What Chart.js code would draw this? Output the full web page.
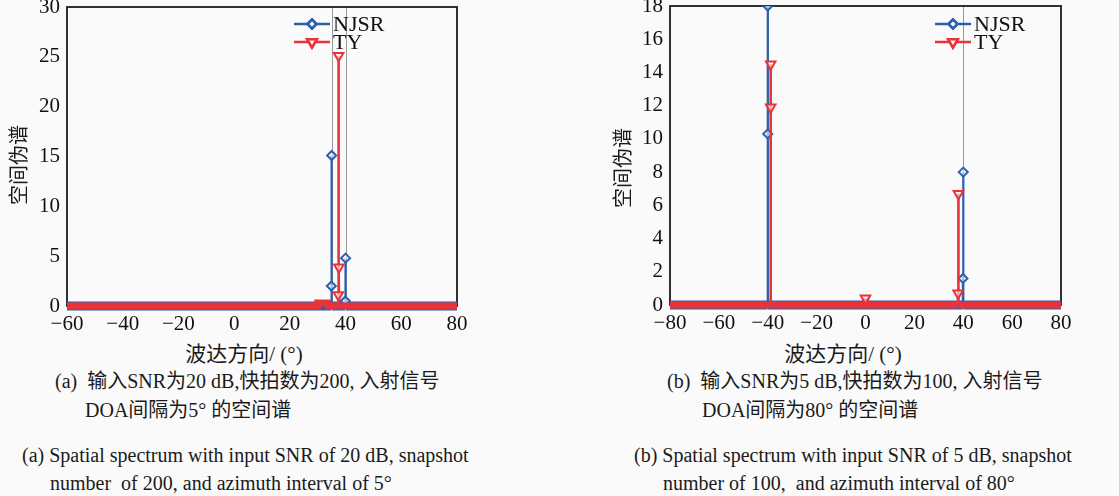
<!DOCTYPE html>
<html>
<head>
<meta charset="utf-8">
<script src="https://cdn.jsdelivr.net/npm/chart.js@4.4.0/dist/chart.umd.min.js"></script>
<style>
    body { margin: 0; width: 1119px; height: 496px; position: relative; overflow: hidden; background: #fafafa; color: #1a1a1a; font-family: "Liberation Serif", "Noto Sans CJK SC", serif; }
    .cv { position: absolute; top: 0; }
    .t { position: absolute; white-space: pre; font-size: 20px; line-height: 20px; }
    .c { transform: translateX(-50%); }
    .yt { transform: translate(-50%, -50%) rotate(-90deg); }
</style>
</head>
<body>
<div class="cv" style="left:0;width:480px;height:340px"><canvas id="chartA"></canvas></div>
<div class="cv" style="left:580px;width:520px;height:340px"><canvas id="chartB"></canvas></div>

<div class="t yt" style="left:19px;top:165px">空间伪谱</div>
<div class="t yt" style="left:623px;top:168px">空间伪谱</div>
<div class="t c" style="left:244px;top:344px;font-size:21px">波达方向/ (°)</div>
<div class="t c" style="left:843px;top:344px;font-size:21px">波达方向/ (°)</div>

<div class="t" style="left:55px;top:371px">(a)  输入SNR为20 dB,快拍数为200, 入射信号</div>
<div class="t" style="left:85px;top:400px">DOA间隔为5° 的空间谱</div>
<div class="t" style="left:22px;top:445px">(a) Spatial spectrum with input SNR of 20 dB, snapshot</div>
<div class="t" style="left:50px;top:473px">number  of 200, and azimuth interval of 5°</div>

<div class="t" style="left:667px;top:371px">(b)  输入SNR为5 dB,快拍数为100, 入射信号</div>
<div class="t" style="left:702px;top:400px">DOA间隔为80° 的空间谱</div>
<div class="t" style="left:634px;top:445px">(b) Spatial spectrum with input SNR of 5 dB, snapshot</div>
<div class="t" style="left:663px;top:473px">number of 100,  and azimuth interval of 80°</div>

<script>
// series names
const seriesNames = ["NJSR", "TY"];

// (a) SNR 20 dB, 200 snapshots, DOA 35 / 40
const aTrueDoa = [35, 40];
const aAngleNJSR = [-60, 34.8, 34.9, 35, 35.05, 39.8, 39.9, 40, 40.05, 80];
const aSpecNJSR  = [0, 0, 2.0, 15.1, 0, 0, 0.5, 4.8, 0, 0];
const aAngleTY   = [-60, 29.8, 30, 33.6, 33.8, 37.3, 37.4, 37.5, 37.6, 37.65, 80];
const aSpecTY    = [0, 0, 0.3, 0.3, 0, 0, 1.1, 25.1, 3.9, 0, 0];
const aXTicks = [-60, -40, -20, 0, 20, 40, 60, 80];
const aYTicks = [0, 5, 10, 15, 20, 25, 30];

// (b) SNR 5 dB, 100 snapshots, DOA -40 / 40
const bTrueDoa = [-40, 40];
const bAngleNJSR = [-80, -40.1, -40, -40, -39.95, 39.8, 39.9, 40, 40.05, 80];
const bSpecNJSR  = [0, 0, 10.3, 18.0, 0, 0, 1.6, 8.0, 0, 0];
const bAngleTY   = [-80, -38.9, -38.8, -38.8, -38.75, -0.1, 0, 0.1, 37.8, 37.9, 38.0, 38.05, 80];
const bSpecTY    = [0, 0, 11.9, 14.5, 0, 0, 0.4, 0, 0, 0.7, 6.7, 0, 0];
const bXTicks = [-80, -60, -40, -20, 0, 20, 40, 60, 80];
const bYTicks = [0, 2, 4, 6, 8, 10, 12, 14, 16, 18];

var BLUE = "#2c5fae";
var RED = "#e8333b";
var tickFont = { family: "Liberation Serif", size: 21 };

function pts(xs, ys) {
    return xs.map(function (x, i) { return { x: x, y: ys[i] }; });
}

// thick baseline where the spectrum sits near zero (dense markers in the original)
function seg(band, stem) {
    return function (ctx) {
        return (Math.abs(ctx.p0.parsed.y) < 0.5 && Math.abs(ctx.p1.parsed.y) < 0.5) ? band : stem;
    };
}

var framePlugin = {
    id: "frame",
    beforeDatasetsDraw: function (chart, args, opts) {
        var c = chart.ctx, a = chart.chartArea, xs = chart.scales.x;
        c.save();
        c.strokeStyle = "#9a9a9a";
        c.lineWidth = 1;
        opts.doa.forEach(function (d) {
            var px = Math.round(xs.getPixelForValue(d)) + 0.5;
            c.beginPath(); c.moveTo(px, a.top); c.lineTo(px, a.bottom); c.stroke();
        });
        c.strokeStyle = "#1c1c1c";
        c.lineWidth = 1.8;
        c.strokeRect(a.left, a.top, a.right - a.left, a.bottom - a.top);
        c.restore();
    },
    afterDatasetsDraw: function (chart, args, opts) {
        var c = chart.ctx, x0 = opts.lx;
        var rows = [
            { name: seriesNames[0], color: BLUE, y: 24, style: "rectRot", r: 4.5, rot: 0 },
            { name: seriesNames[1], color: RED, y: 42, style: "triangle", r: 5.5, rot: 180 }
        ];
        c.save();
        rows.forEach(function (r) {
            c.strokeStyle = r.color;
            c.lineWidth = 2.5;
            c.beginPath(); c.moveTo(x0, r.y); c.lineTo(x0 + 36, r.y); c.stroke();
            c.fillStyle = "rgba(250,250,250,0.8)";
            Chart.helpers.drawPoint(c, { pointStyle: r.style, radius: r.r, borderWidth: 2, rotation: r.rot }, x0 + 18, r.y);
            c.fill();
            c.stroke();
            c.fillStyle = "#111";
            c.font = '22px "Liberation Serif"';
            c.textBaseline = "middle";
            c.fillText(r.name, x0 + 39, r.y + 1);
        });
        c.restore();
    }
};

function makeChart(id, cfg) {
    var ctx = document.getElementById(id).getContext("2d");
    return new Chart(ctx, {
        type: "line",
        data: {
            datasets: [
                {
                    label: seriesNames[0],
                    data: pts(cfg.xN, cfg.yN),
                    borderColor: BLUE,
                    backgroundColor: "rgba(250,250,250,0.6)",
                    segment: { borderWidth: seg(9, 2.2) },
                    pointStyle: "rectRot",
                    pointRadius: function (c) { return c.raw && c.raw.y > 0.35 ? 4.5 : 0; },
                    pointBorderWidth: 2,
                    pointBorderColor: BLUE,
                    tension: 0,
                    order: 1,
                    clip: { left: 6, top: 0, right: 6, bottom: 10 }
                },
                {
                    label: seriesNames[1],
                    data: pts(cfg.xT, cfg.yT),
                    borderColor: RED,
                    backgroundColor: "rgba(250,250,250,0.6)",
                    segment: { borderWidth: seg(7, 2.6) },
                    pointStyle: "triangle",
                    pointRotation: 180,
                    pointRadius: function (c) { return c.raw && c.raw.y > 0.35 ? 5.5 : 0; },
                    pointBorderWidth: 2,
                    pointBorderColor: RED,
                    tension: 0,
                    order: 0,
                    clip: { left: 6, top: 0, right: 6, bottom: 10 }
                }
            ]
        },
        options: {
            responsive: true,
            maintainAspectRatio: false,
            animation: false,
            layout: { padding: cfg.pad },
            plugins: {
                legend: { display: false },
                tooltip: { enabled: false },
                frame: { doa: cfg.doa, lx: cfg.lx }
            },
            scales: {
                x: {
                    type: "linear",
                    min: cfg.xTicks[0],
                    max: cfg.xTicks[cfg.xTicks.length - 1],
                    grid: { display: false, drawTicks: false },
                    border: { display: false },
                    afterBuildTicks: function (s) { s.ticks = cfg.xTicks.map(function (v) { return { value: v }; }); },
                    ticks: {
                        padding: 6,
                        color: "#111",
                        font: tickFont,
                        maxRotation: 0,
                        autoSkip: false,
                        callback: function (v) { return String(v).replace("-", "\u2212"); }
                    },
                    afterFit: function (s) { s.height = cfg.xh; s.paddingLeft = 0; s.paddingRight = 0; }
                },
                y: {
                    min: cfg.yTicks[0],
                    max: cfg.yTicks[cfg.yTicks.length - 1],
                    grid: { display: false, drawTicks: false },
                    border: { display: false },
                    afterBuildTicks: function (s) { s.ticks = cfg.yTicks.map(function (v) { return { value: v }; }); },
                    ticks: { padding: 7, color: "#111", font: tickFont, autoSkip: false },
                    afterFit: function (s) { s.width = cfg.yw; s.paddingTop = 0; s.paddingBottom = 0; }
                }
            }
        },
        plugins: [framePlugin]
    });
}

makeChart("chartA", {
    xN: aAngleNJSR, yN: aSpecNJSR, xT: aAngleTY, yT: aSpecTY,
    xTicks: aXTicks, yTicks: aYTicks, doa: aTrueDoa,
    pad: { top: 7, right: 23, left: 0, bottom: 0 }, yw: 67, xh: 34, lx: 294
});

makeChart("chartB", {
    xN: bAngleNJSR, yN: bSpecNJSR, xT: bAngleTY, yT: bSpecTY,
    xTicks: bXTicks, yTicks: bYTicks, doa: bTrueDoa,
    pad: { top: 6, right: 39, left: 0, bottom: 0 }, yw: 90, xh: 35, lx: 355
});
</script>
</body>
</html>
